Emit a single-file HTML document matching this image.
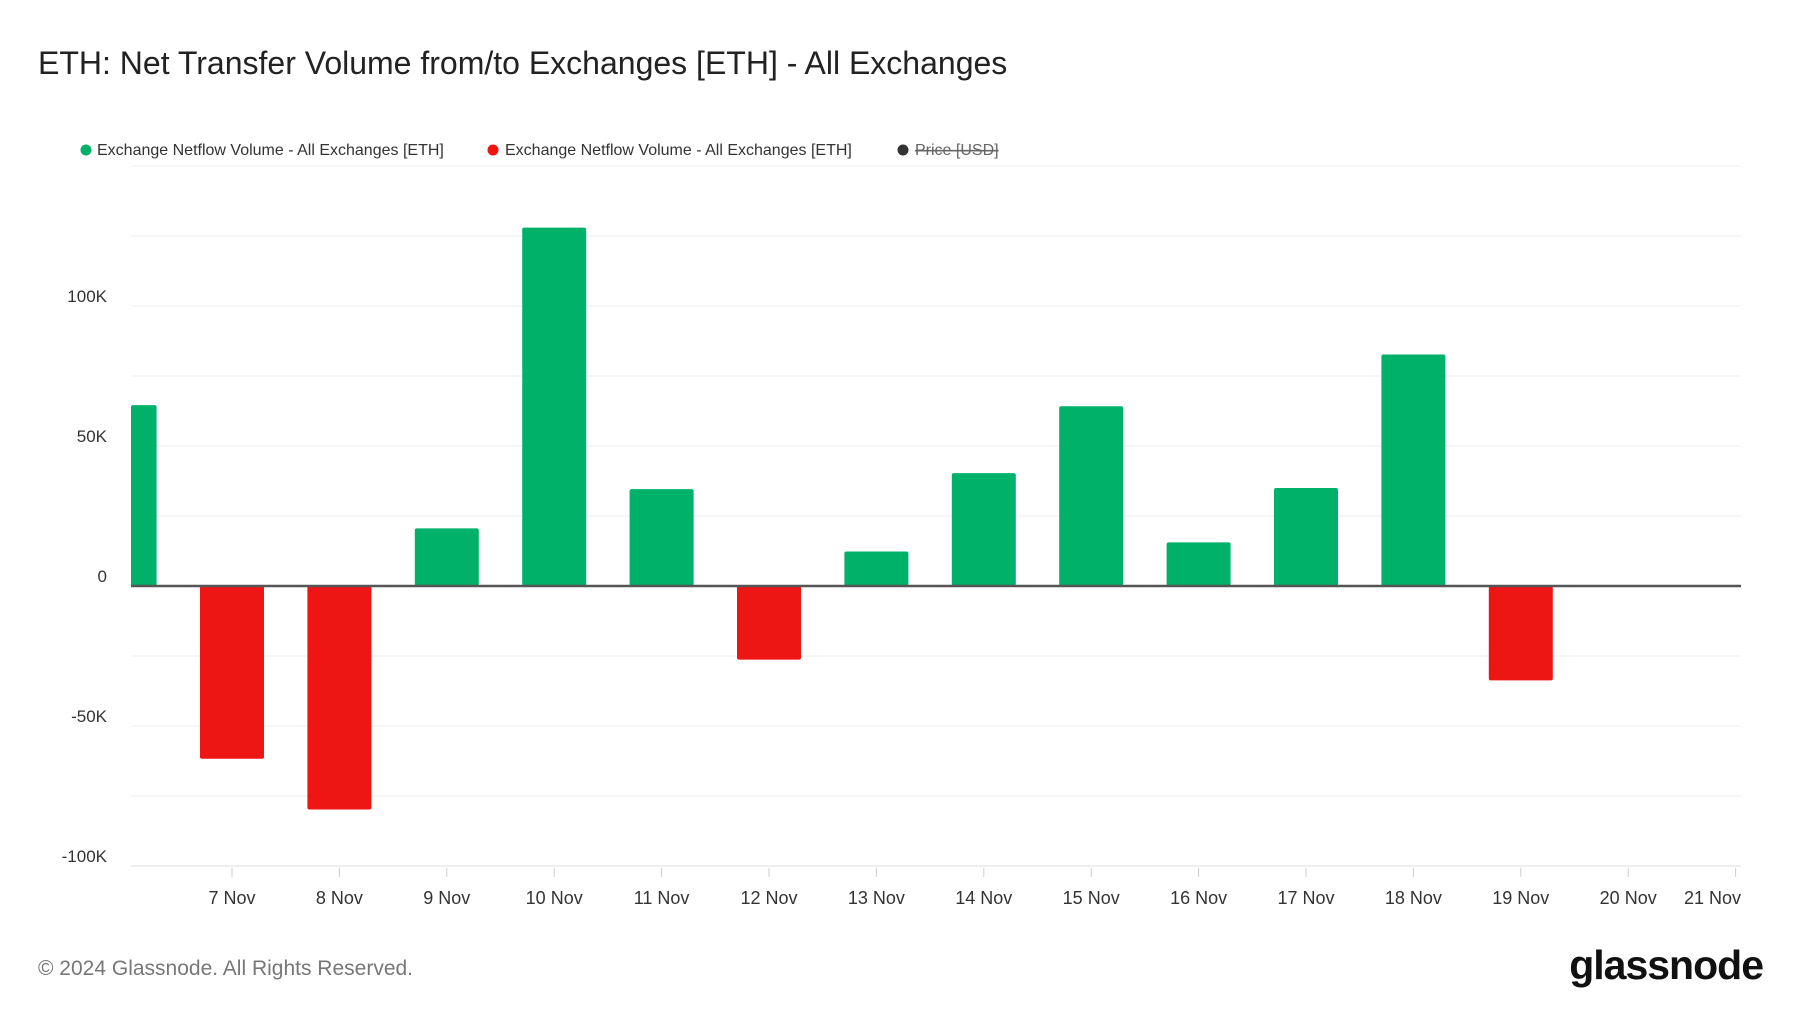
<!DOCTYPE html>
<html><head><meta charset="utf-8"><style>
html,body{margin:0;padding:0;background:#fff;width:1800px;height:1013px;overflow:hidden}
svg{display:block;font-family:"Liberation Sans",sans-serif}
</style></head><body>
<svg width="1800" height="1013" viewBox="0 0 1800 1013">
<text x="38" y="74" font-size="32" fill="#222">ETH: Net Transfer Volume from/to Exchanges [ETH] - All Exchanges</text>
<g font-size="16" fill="#333">
<g><circle cx="86" cy="150" r="5.5" fill="#00b16a"/><text x="97" y="155">Exchange Netflow Volume - All Exchanges [ETH]</text></g>
<g><circle cx="493" cy="150" r="5.5" fill="#ee1515"/><text x="505" y="155">Exchange Netflow Volume - All Exchanges [ETH]</text></g>
<g><circle cx="903" cy="150" r="5.5" fill="#333"/><text x="915" y="155" fill="#666" text-decoration="line-through">Price [USD]</text></g>
</g>
<g id="grid"></g>
<g id="bars"></g>
<g id="yaxis"></g>
<g id="xaxis"></g>
<text x="38" y="975" font-size="21" fill="#777">© 2024 Glassnode. All Rights Reserved.</text>
<text x="1763" y="979" font-size="41" fill="#111" text-anchor="end" font-weight="bold" letter-spacing="-1">glassnode</text>
</svg>
<script>
const categories=["6 Nov","7 Nov","8 Nov","9 Nov","10 Nov","11 Nov","12 Nov","13 Nov","14 Nov","15 Nov","16 Nov","17 Nov","18 Nov","19 Nov","20 Nov","21 Nov"];
const values=[64.6,-61.7,-79.8,20.6,128,34.6,-26.3,12.3,40.3,64.2,15.6,35,82.7,-33.7,null,null];
const yTicks=[-100,-50,0,50,100];
const yTickLabels=["-100K","-50K","0","50K","100K"];
const gridVals=[-100,-75,-50,-25,0,25,50,75,100,125,150];
const NS="http://www.w3.org/2000/svg";
const L=131,R=1741,zeroY=586,perK=140/50,step=107.4,x0=124.6;
function y(v){return zeroY-v*perK;}
function x(i){return x0+i*step;}
function mk(t,a,p){const e=document.createElementNS(NS,t);for(const k in a)e.setAttribute(k,a[k]);p.appendChild(e);return e;}
const grid=document.getElementById('grid'),bars=document.getElementById('bars'),ya=document.getElementById('yaxis'),xa=document.getElementById('xaxis');
gridVals.forEach(v=>{if(v===0)return;const g=mk('line',{x1:L,x2:R,y1:y(v),y2:y(v),stroke:v===-100?'#ddd':'#eee','stroke-width':1},grid);

});
values.forEach((v,i)=>{if(v==null)return;let bx=x(i)-32,w=64;if(bx<L){w-=L-bx;bx=L;}
const top=v>=0?y(v):zeroY,h=Math.abs(v*perK);
const r=mk('rect',{x:bx,y:top,width:w,height:h,fill:v>=0?'#00b16a':'#ee1515',rx:2},bars);

});
const zl=mk('line',{x1:L,x2:R,y1:zeroY,y2:zeroY,stroke:'#555','stroke-width':2.5},bars);


yTicks.forEach((v,i)=>{const t=mk('text',{x:107,y:y(v)-4,'font-size':17,fill:'#333','text-anchor':'end'},ya);t.textContent=yTickLabels[i];

});
categories.forEach((c,i)=>{if(i===0)return;const cx=x(i);if(cx>R+5)return;
const tk=mk('line',{x1:cx,x2:cx,y1:868,y2:877,stroke:'#ccc'},xa);


const last=i===categories.length-1;
const t=mk('text',{x:last?R:cx,y:904,'font-size':18,fill:'#333','text-anchor':last?'end':'middle'},xa);t.textContent=c;

});
</script>
</body></html>
